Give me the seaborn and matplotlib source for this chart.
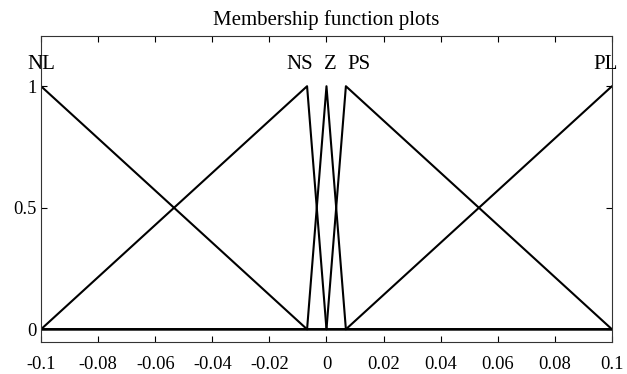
import matplotlib
matplotlib.use("Agg")
import matplotlib.pyplot as plt
import seaborn as sns
import pandas as pd

# Membership function vertices (x, membership degree)
nl_x = [-0.1, -0.0068, 0.1]
nl_y = [1, 0, 0]
ns_x = [-0.1, -0.0068, 0.0, 0.1]
ns_y = [0, 1, 0, 0]
z_x = [-0.1, -0.0068, 0.0, 0.0068, 0.1]
z_y = [0, 0, 1, 0, 0]
ps_x = [-0.1, 0.0, 0.0068, 0.1]
ps_y = [0, 0, 1, 0]
pl_x = [-0.1, 0.0068, 0.1]
pl_y = [0, 0, 1]

mf_names = ["NL", "NS", "Z", "PS", "PL"]
label_x = [-0.1, -0.0093, 0.0012, 0.0113, 0.0977]

x_ticks = [-0.1, -0.08, -0.06, -0.04, -0.02, 0, 0.02, 0.04, 0.06, 0.08, 0.1]
x_tick_labels = ["-0.1", "-0.08", "-0.06", "-0.04", "-0.02", "0",
                 "0.02", "0.04", "0.06", "0.08", "0.1"]
y_ticks = [0, 0.5, 1]
y_tick_labels = ["0", "0.5", "1"]

sns.set_theme(style="white")
plt.rcParams["font.family"] = ["Liberation Serif", "DejaVu Serif"]

rows = []
for name, xs, ys in zip(mf_names, [nl_x, ns_x, z_x, ps_x, pl_x],
                        [nl_y, ns_y, z_y, ps_y, pl_y]):
    for i, (xv, yv) in enumerate(zip(xs, ys)):
        rows.append({"mf": name, "x": xv, "mu": yv, "order": i})
df = pd.DataFrame(rows)

fig = plt.figure(figsize=(6.27, 3.74), dpi=100)
ax = fig.add_axes([0.0654, 0.0864, 0.9106, 0.8176])

for name in mf_names:
    sub = df[df["mf"] == name]
    sns.lineplot(data=sub, x="x", y="mu", sort=False, estimator=None,
                 color="black", linewidth=1.5, ax=ax)

ax.set_xlim(-0.1, 0.1)
ax.set_ylim(-0.051, 1.207)
ax.set_xticks(x_ticks)
ax.set_xticklabels(x_tick_labels)
ax.set_yticks(y_ticks)
ax.set_yticklabels(y_tick_labels)
ax.set_xlabel("")
ax.set_ylabel("")
ax.tick_params(axis="both", direction="in", length=4, width=0.8,
               colors="black", labelsize=13.3)
ax.tick_params(axis="x", top=True, bottom=True, pad=10)
ax.tick_params(axis="y", left=True, right=True, pad=3)
for sp in ax.spines.values():
    sp.set_color("#333333")
    sp.set_linewidth(0.8)

for name, lx in zip(mf_names, label_x):
    ax.text(lx, 1.07, name, ha="center", va="baseline", fontsize=15,
            color="black")

ax.set_title("Membership function plots", fontsize=15, pad=8, color="black")

fig.savefig("out.png", dpi=100)
